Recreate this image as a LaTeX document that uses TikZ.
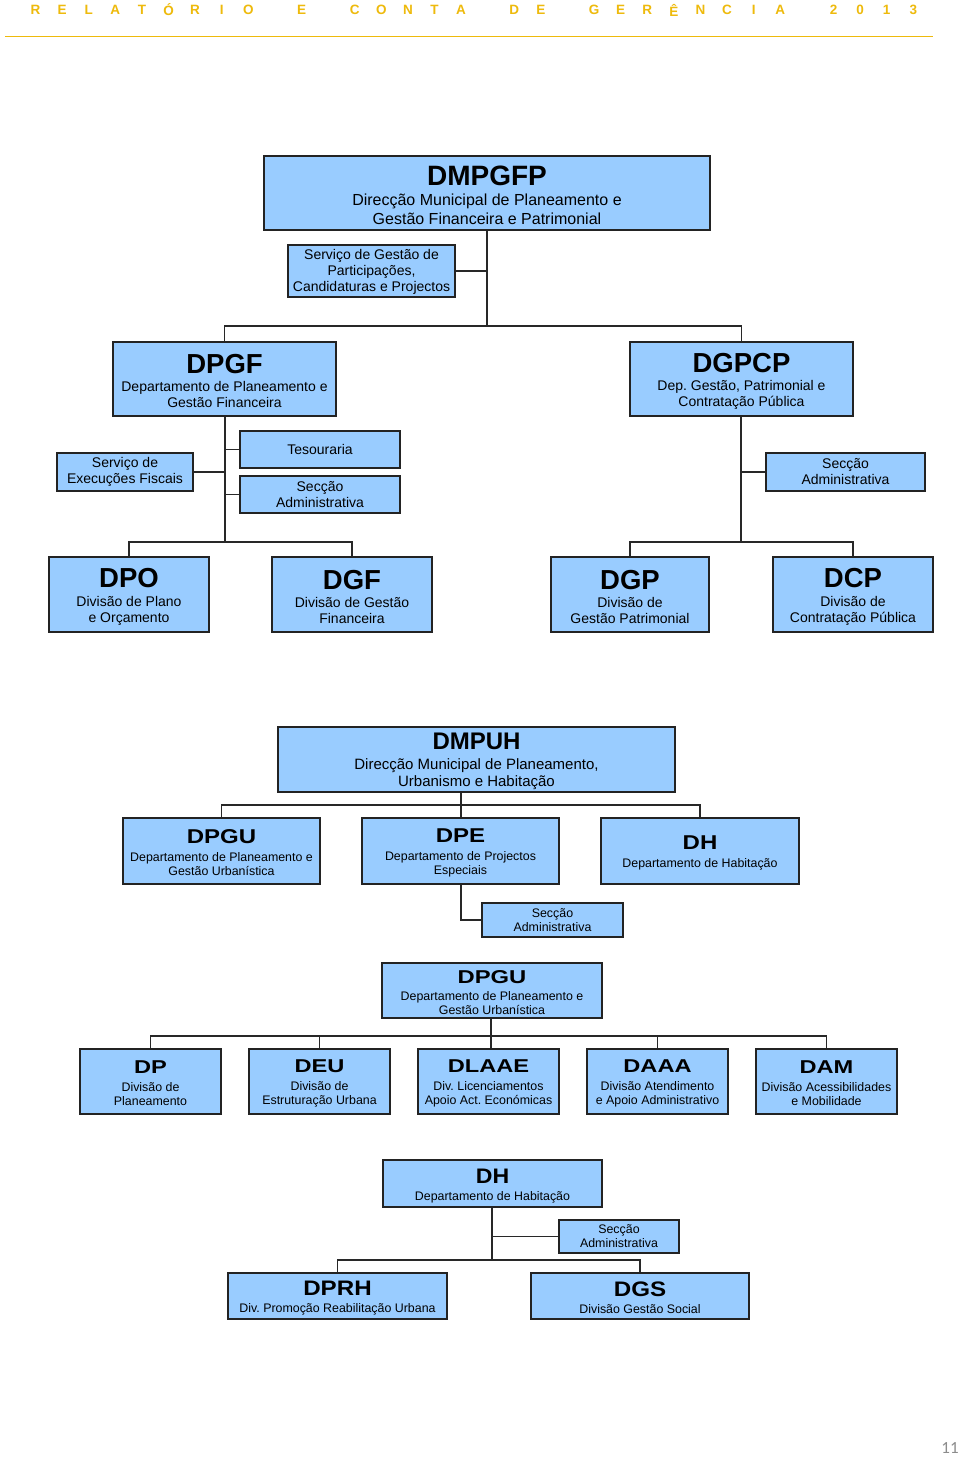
\documentclass[tikz,border=0pt]{standalone}
\usepackage{fontspec}
\usepackage{graphicx}
\setmainfont{Liberation Sans}
\newfontfamily\pgnumfont{Carlito}
\definecolor{boxblue}{RGB}{153,204,255}
\definecolor{goldc}{RGB}{238,186,12}
\definecolor{edgec}{RGB}{35,35,35}
\definecolor{linec}{RGB}{40,40,40}
\tikzset{
  orgbox/.style={draw=edgec, fill=boxblue, line width=1.7pt, inner sep=0pt, align=center, text=black},
  conn/.style={draw=linec, line width=1.8pt},
  fA/.style={font=\fontsize{16}{19}\selectfont},
  fB/.style={font=\fontsize{14}{16}\selectfont},
  fC/.style={font=\fontsize{15}{17}\selectfont},
  fD/.style={font=\fontsize{12.4}{14}\selectfont},
  hdr/.style={text=goldc, font=\fontsize{13.5}{13.5}\selectfont\bfseries, inner sep=0pt},
}
\newcommand\orgnode[7][]{\node[orgbox,minimum width={(#5-#3)*1pt},minimum height={(#6-#4)*1pt},#1] (#2) at ({(#3+#5)/2},{(#4+#6)/2}) {#7};}
\newcommand\ttl[2]{{\fontsize{#1}{#1}\selectfont\bfseries\rule{0pt}{\dimexpr #1pt*3/4+3pt\relax}#2}}
\newcommand\ttls[3]{{\fontsize{#1}{#1}\selectfont\bfseries\rule{0pt}{\dimexpr #1pt*3/4+3pt\relax}\scalebox{#2}[1]{#3}}}
\begin{document}
\frenchspacing
\begin{tikzpicture}[x=1pt,y=-1pt]
\fill[white] (0,0) rectangle (960,1458);
\useasboundingbox (0,0) rectangle (960,1458);

% header
\foreach \i/\c in {0/R,1/E,2/L,3/A,4/T,5/Ó,6/R,7/I,8/O,10/E,12/C,13/O,14/N,15/T,16/A,18/D,19/E,21/G,22/E,23/R,24/Ê,25/N,26/C,27/I,28/A,30/2,31/0,32/1,33/3}
  \node[hdr] (hdr\i) at ({35.5+26.6*\i},10) {\c};
\coordinate (hl1) at (5,36.5);
\coordinate (hl2) at (933,36.5);
\draw[goldc, line width=1.8pt] (hl1) -- (hl2);
\node[text=black!45, font=\pgnumfont\fontsize{17}{17}\selectfont, inner sep=0pt] (pg) at (950,1448) {11};

% ===== chart 1 =====
\orgnode[fA]{dmpgfp}{264}{156}{710}{230}{\ttl{28}{DMPGFP}\\[1pt]Direcção Municipal de Planeamento e\\Gestão Financeira e Patrimonial}
\orgnode[fB]{sg}{288}{245}{455}{297}{\rule{0pt}{12pt}Serviço de Gestão de\\Participações,\\Candidaturas e Projectos}
\orgnode[fB]{dpgf}{113}{342}{336}{416}{\ttl{27.5}{DPGF}\\[2pt]Departamento de Planeamento e\\Gestão Financeira}
\orgnode[fB]{dgpcp}{630}{342}{853}{416}{\ttl{27.5}{DGPCP}\\[2pt]Dep. Gestão, Patrimonial e\\Contratação Pública}
\orgnode[fB]{sef}{57}{453}{193}{491}{Serviço de\\Execuções Fiscais}
\orgnode[fB]{tes}{240}{431}{400}{468}{Tesouraria}
\orgnode[fB]{sa1}{240}{476}{400}{513}{Secção\\Administrativa}
\orgnode[fB]{sa2}{766}{453}{925}{491}{Secção\\Administrativa}
\orgnode[fB]{dpo}{49}{557}{209}{632}{\ttl{27.5}{DPO}\\[3pt]Divisão de Plano\\e Orçamento}
\orgnode[fB]{dgf}{272}{557}{432}{632}{\ttl{27.5}{DGF}\\[2pt]Divisão de Gestão\\Financeira}
\orgnode[fB]{dgp}{551}{557}{709}{632}{\ttl{27.5}{DGP}\\[2pt]Divisão de\\Gestão Patrimonial}
\orgnode[fB]{dcp}{773}{557}{933}{632}{\ttl{27.5}{DCP}\\[3pt]Divisão de\\Contratação Pública}

\coordinate (b1) at (487,326);
\coordinate (b2) at (225,542);
\coordinate (b3) at (741,542);
\draw[conn] (dmpgfp.south) -- (b1);
\draw[conn] (sg.east) -- (sg.east -| b1);
\draw[conn] (dpgf.north) |- (b1) -| (dgpcp.north);
\draw[conn] (dpgf.south -| b2) -- (b2);
\draw[conn] (tes.west) -- (tes.west -| b2);
\draw[conn] (sa1.west) -- (sa1.west -| b2);
\draw[conn] (sef.east) -- (sef.east -| b2);
\draw[conn] (dpo.north) |- (b2) -| (dgf.north);
\draw[conn] (dgpcp.south -| b3) -- (b3);
\draw[conn] (sa2.west) -- (sa2.west -| b3);
\draw[conn] (dgp.north) |- (b3) -| (dcp.north);

% ===== chart 2 =====
\orgnode[fC]{dmpuh}{278}{727}{675}{792}{\ttl{24}{DMPUH}\\[3pt]Direcção Municipal de Planeamento,\\Urbanismo e Habitação}
\orgnode[fD]{dpgu}{123}{818}{320}{884}{\ttls{20}{1.2}{DPGU}\\[4pt]Departamento de Planeamento e\\Gestão Urbanística}
\orgnode[fD]{dpe}{362}{818}{559}{884}{\ttls{20}{1.2}{DPE}\\[4pt]Departamento de Projectos\\Especiais}
\orgnode[fD]{dh}{601}{818}{799}{884}{\ttls{20}{1.2}{DH}\\[4pt]Departamento de Habitação}
\orgnode[fD]{sa3}{482}{903}{623}{937}{Secção\\Administrativa}

\coordinate (b4) at (461,805);
\draw[conn] (dmpuh.south -| b4) -- (b4 |- dpe.north);
\draw[conn] (dpgu.north) |- (b4) -| (dh.north);
\draw[conn] (dpe.south -| b4) |- (sa3.west);

\orgnode[fD]{dpgu2}{382}{963}{602}{1018}{\ttls{18.6}{1.28}{DPGU}\\[3pt]Departamento de Planeamento e\\Gestão Urbanística}
\orgnode[fD]{dp}{80}{1049}{221}{1114}{\ttls{18.6}{1.27}{DP}\\[4pt]Divisão de\\Planeamento}
\orgnode[fD]{deu}{249}{1049}{390}{1114}{\ttls{18.6}{1.27}{DEU}\\[4pt]Divisão de\\Estruturação Urbana}
\orgnode[fD]{dlaae}{418}{1049}{559}{1114}{\ttls{18.6}{1.27}{DLAAE}\\[4pt]Div. Licenciamentos\\Apoio Act. Económicas}
\orgnode[fD]{daaa}{587}{1049}{728}{1114}{\ttls{18.6}{1.27}{DAAA}\\[4pt]Divisão Atendimento\\e Apoio Administrativo}
\orgnode[fD]{dam}{756}{1049}{897}{1114}{\ttls{18.6}{1.27}{DAM}\\[4pt]Divisão Acessibilidades\\e Mobilidade}

\coordinate (b5) at (491,1036);
\draw[conn] (dpgu2.south -| b5) -- (b5);
\draw[conn] (dp.north) |- (b5) -| (dam.north);
\draw[conn] (deu.north) -- (deu.north |- b5);
\draw[conn] (dlaae.north -| b5) -- (b5);
\draw[conn] (daaa.north) -- (daaa.north |- b5);

\orgnode[fD]{dh3}{383}{1160}{602}{1207}{\ttls{21}{1.1}{DH}\\[3pt]Departamento de Habitação}
\orgnode[fD]{sa4}{559}{1220}{679}{1253}{Secção\\Administrativa}
\orgnode[fD]{dprh}{228}{1273}{447}{1319}{\ttls{21}{1.15}{DPRH}\\[3pt]Div. Promoção Reabilitação Urbana}
\orgnode[fD]{dgs}{531}{1273}{749}{1319}{\ttls{21}{1.15}{DGS}\\[3pt]Divisão Gestão Social}

\coordinate (b6) at (492,1260);
\draw[conn] (dh3.south -| b6) -- (b6);
\draw[conn] (sa4.west) -- (sa4.west -| b6);
\draw[conn] (dprh.north) |- (b6) -| (dgs.north);
\end{tikzpicture}
\end{document}
